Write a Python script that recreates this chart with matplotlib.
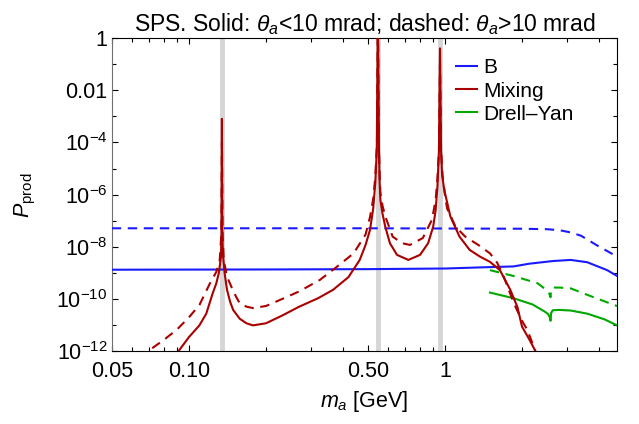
# SPS production probability vs ALP mass
import numpy as np
import matplotlib
matplotlib.use('Agg')
import matplotlib.pyplot as plt
from matplotlib.ticker import FixedLocator, FixedFormatter, NullFormatter

plt.rcParams['font.family'] = ['Liberation Sans', 'DejaVu Sans']
plt.rcParams['mathtext.fontset'] = 'custom'
plt.rcParams['mathtext.rm'] = 'Liberation Sans'
plt.rcParams['mathtext.it'] = 'Liberation Sans:italic'
plt.rcParams['mathtext.bf'] = 'Liberation Sans:bold'

# meson masses (gray bands): pi0, eta, eta'
meson_masses = [0.135, 0.548, 0.958]

# B decays
b_solid_x = [0.05, 0.2, 0.5, 1.0, 1.5, 1.85, 2.14, 2.64, 3.1, 3.6, 4.3, 4.7]
b_solid_y = [1.35e-9, 1.38e-9, 1.42e-9, 1.5e-9, 1.7e-9, 1.8e-9, 2.3e-9, 2.9e-9, 3.2e-9, 2.6e-9, 1.3e-9, 7.8e-10]
b_dash_x = [0.05, 0.5, 1.0, 2.0, 2.5, 2.8, 3.1, 3.4, 3.9, 4.3, 4.7]
b_dash_y = [5.2e-8, 5.2e-8, 5.1e-8, 5.0e-8, 4.8e-8, 4.4e-8, 3.6e-8, 2.7e-8, 1.2e-8, 7e-9, 4.3e-9]

# meson mixing
mix_solid_x = [0.085, 0.091, 0.10, 0.11, 0.117, 0.124, 0.128, 0.131, 0.1335, 0.1342, 0.1347,
               0.1352, 0.136, 0.138, 0.141, 0.145, 0.149, 0.158, 0.168, 0.178, 0.20, 0.23,
               0.27, 0.32, 0.366, 0.42, 0.465, 0.49, 0.51, 0.525, 0.535, 0.542, 0.5475, 0.553,
               0.556, 0.56, 0.57, 0.585, 0.61, 0.65, 0.72, 0.80, 0.86, 0.90, 0.92, 0.935, 0.948,
               0.957, 0.966, 0.975, 0.99, 1.0, 1.05, 1.14, 1.25, 1.37, 1.5, 1.64, 1.8, 1.92, 2.0,
               2.14, 2.25, 2.35]
mix_solid_y = [4e-13, 1e-12, 3.5e-12, 1e-11, 2.8e-11, 1.7e-10, 4e-10, 1e-9, 4e-9, 3e-8, 8e-4,
               3e-8, 5e-9, 1e-9, 2.3e-10, 8e-11, 3.9e-11, 1.8e-11, 1.2e-11, 1.0e-11, 1.2e-11, 2.3e-11,
               5.2e-11, 1.1e-10, 2.3e-10, 7e-10, 3.2e-9, 1.2e-8, 4.5e-8, 3e-7, 3e-6, 5e-5, 10.0, 5e-5,
               3e-6, 6.3e-7, 2e-7, 6e-8, 1.4e-8, 5e-9, 3.2e-9, 5e-9, 1.4e-8, 6e-8, 2.5e-7, 2e-6, 5e-5,
               0.4, 5e-5, 6e-6, 2e-6, 1.2e-6, 1.5e-7, 2.5e-8, 7.7e-9, 4.3e-9, 2.7e-9, 1.3e-9, 2.3e-10,
               5e-11, 9e-12, 2.8e-12, 1.1e-12, 4e-13]
mix_dash_x = [0.065, 0.069, 0.08, 0.09, 0.10, 0.11, 0.121, 0.128, 0.132, 0.1340, 0.1347,
              0.1355, 0.137, 0.141, 0.15, 0.158, 0.168, 0.178, 0.20, 0.227, 0.27, 0.325,
              0.38, 0.44, 0.49, 0.51, 0.525, 0.535, 0.543, 0.5475, 0.552, 0.556, 0.56, 0.57,
              0.585, 0.625, 0.68, 0.73, 0.82, 0.89, 0.92, 0.935, 0.948, 0.957, 0.966, 0.98,
              1.0, 1.02, 1.1, 1.2, 1.35, 1.5, 1.6, 1.7, 1.86, 2.0, 2.1, 2.2, 2.3]
mix_dash_y = [5e-13, 1e-12, 2.8e-12, 7e-12, 2e-11, 6e-11, 4.1e-10, 1.1e-9, 3e-9, 3e-8, 1e-4,
              3e-8, 3e-9, 7.3e-10, 1.8e-10, 7e-11, 5.2e-11, 4.6e-11, 5.5e-11, 9.4e-11, 2e-10, 5.5e-10,
              1.8e-9, 5.7e-9, 3e-8, 1.4e-7, 7e-7, 5e-6, 1e-4, 10.0, 1e-4, 6e-6, 1.2e-6, 4e-7,
              1.5e-7, 2.5e-8, 1.4e-8, 1.2e-8, 2.2e-8, 1.1e-7, 6.3e-7, 4e-6, 5e-5, 0.1, 5e-5, 5e-6,
              1e-6, 3e-7, 6e-8, 2.5e-8, 1.2e-8, 5.7e-9, 2.5e-9, 7e-10, 7e-11, 1.5e-11, 6.6e-12, 2e-12, 6e-13]

# Drell-Yan
dy_solid_x = [1.5, 1.85, 2.2, 2.45, 2.53, 2.57, 2.585, 2.60, 2.64, 2.8, 3.1, 3.6, 4.2, 4.7]
dy_solid_y = [1.8e-10, 1.1e-10, 6.3e-11, 3.4e-11, 2.7e-11, 2.0e-11, 1.5e-11, 3.0e-11, 3.8e-11, 3.9e-11,
              3.7e-11, 2.8e-11, 1.7e-11, 1.0e-11]
dy_dash_x = [1.5, 1.85, 2.3, 2.5, 2.56, 2.585, 2.60, 2.64, 2.8, 3.1, 3.8, 4.7]
dy_dash_y = [1.3e-9, 7.8e-10, 4.1e-10, 2.2e-10, 1.6e-10, 1.2e-10, 2.4e-10, 2.8e-10, 2.8e-10, 2.6e-10,
             1.2e-10, 5.5e-11]

blue = '#1a1aff'
red = '#aa0000'
green = '#00a800'
dash = (4.5, 3.2)

fig = plt.figure(figsize=(6.39, 4.24), dpi=100)
ax = fig.add_axes([0.1748, 0.171, 0.7908, 0.7394])

for m in meson_masses:
    ax.axvline(m, color='#d6d6d6', lw=3.5, zorder=1)

ax.plot(b_solid_x, b_solid_y, color=blue, lw=1.5, label='B', zorder=3)
ax.plot(b_dash_x, b_dash_y, color=blue, lw=1.5, dashes=dash, zorder=3)
ax.plot(mix_solid_x, mix_solid_y, color=red, lw=1.5, label='Mixing', zorder=4)
ax.plot(mix_dash_x, mix_dash_y, color=red, lw=1.5, dashes=dash, zorder=4)
ax.plot(dy_solid_x, dy_solid_y, color=green, lw=1.5, label='Drell\u2013Yan', zorder=3)
ax.plot(dy_dash_x, dy_dash_y, color=green, lw=1.5, dashes=dash, zorder=3)

ax.set_xscale('log')
ax.set_yscale('log')
ax.set_xlim(0.05, 4.7)
ax.set_ylim(1e-12, 1)

# x ticks
ax.xaxis.set_major_locator(FixedLocator([0.05, 0.1, 0.5, 1]))
ax.xaxis.set_major_formatter(FixedFormatter(['0.05', '0.10', '0.50', '1']))
ax.xaxis.set_minor_locator(FixedLocator([0.06, 0.07, 0.08, 0.09, 0.2, 0.3, 0.4,
                                         0.6, 0.7, 0.8, 0.9, 2, 3, 4]))
ax.xaxis.set_minor_formatter(NullFormatter())

# y ticks
ax.yaxis.set_major_locator(FixedLocator([1e-12, 1e-10, 1e-8, 1e-6, 1e-4, 1e-2, 1]))
ax.yaxis.set_major_formatter(FixedFormatter([r'$10^{-12}$', r'$10^{-10}$', r'$10^{-8}$',
                                             r'$10^{-6}$', r'$10^{-4}$', '0.01', '1']))
ax.yaxis.set_minor_locator(FixedLocator([1e-11, 1e-9, 1e-7, 1e-5, 1e-3, 1e-1]))
ax.yaxis.set_minor_formatter(NullFormatter())

ax.tick_params(which='both', direction='in', top=True, right=True, labelsize=15.5)
ax.tick_params(axis='y', pad=3)
ax.tick_params(axis='x', pad=7)
ax.tick_params(which='major', length=4, width=0.8)
ax.tick_params(which='minor', length=3, width=0.8)
for s in ax.spines.values():
    s.set_linewidth(0.8)
ax.spines['left'].set_color('#707070')

ax.set_xlabel(r'$m_a$ [GeV]', fontsize=15.5, labelpad=5)
ax.set_ylabel(r'$P_{\mathrm{prod}}$', fontsize=15.5, labelpad=13)
ax.set_title(r'SPS. Solid: $\theta_a$<10 mrad; dashed: $\theta_a$>10 mrad', fontsize=16.5, pad=5)

ax.legend(loc='upper left', bbox_to_anchor=(0.681, 0.935), frameon=False, fontsize=15,
          handlelength=1.0, handletextpad=0.3, labelspacing=0.2, borderpad=0, borderaxespad=0)

fig.savefig('out.png', dpi=100)
